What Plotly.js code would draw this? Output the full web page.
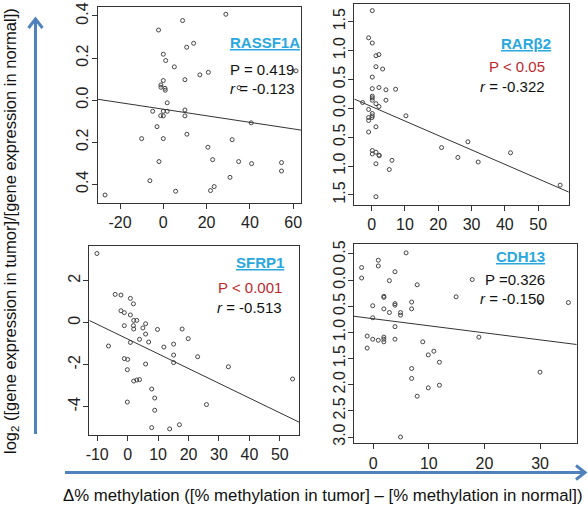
<!DOCTYPE html>
<html>
<head>
<meta charset="utf-8">
<script src="https://cdn.plot.ly/plotly-3.0.1.min.js"></script>
<style>html,body{margin:0;padding:0;background:#fff;}#chart{width:588px;height:507px;}</style>
</head>
<body>
<div id="chart"></div>
<script>
// ---------- data ----------
const rassf1aX = [28.9, 8.9, -2.2, 14, 10.8, 0, 1.1, 5.1, 20.8, 16.9, 10, 0, -1.1, -1.1, 0.8, 0.9, 1.8, -4.9, 0, 1.8, 10, -1.2, 0, 10, -2.9, 40.6, -10, 0, 10.9, 31.8, 20.6, -2, 22.8, 34.8, 40.8, 54.6, 54.6, 30.8, -6.2, 23.5, 21.8, 5.7, -26.9, 61.3, 35];
const rassf1aY = [0.408, 0.378, 0.333, 0.270, 0.251, 0.218, 0.188, 0.158, 0.132, 0.120, 0.097, 0.093, 0.072, 0.061, 0.056, 0.047, -0.013, -0.053, -0.053, -0.053, -0.047, -0.074, -0.075, -0.075, -0.126, -0.108, -0.183, -0.183, -0.162, -0.188, -0.224, -0.292, -0.283, -0.292, -0.302, -0.297, -0.337, -0.367, -0.383, -0.411, -0.430, -0.433, -0.451, 0.139, 0.059];

const rarb2X = [0.2, -0.9, 0.2, 1.3, 2.2, 1.3, 3.3, 0.2, 0.2, 2.2, 4.3, 7.2, 0.2, 0.2, 0.2, 4.3, -2.7, 1.3, 2.2, -0.9, 0.2, 0.2, -0.9, 0.1, -0.9, 10.3, 1.3, -0.9, 0.2, 0.2, 1.3, 2.2, 2.3, 21, 28.9, 41.7, 25.9, 32, 6.1, 1.3, 5.3, 1.3, 56.6];
const rarb2Y = [1.69, 1.22, 1.13, 0.91, 0.93, 0.72, 0.68, 0.54, 0.34, 0.36, 0.32, 0.33, 0.21, 0.18, 0.14, 0.14, 0.10, 0.08, 0.03, -0.02, -0.09, -0.13, -0.16, -0.16, -0.21, -0.13, -0.32, -0.41, -0.73, -0.79, -0.76, -0.81, -0.82, -0.68, -0.58, -0.77, -0.85, -0.93, -0.90, -0.96, -1.06, -1.53, -1.33];

const sfrp1X = [-10.1, -4.1, -2.2, 0.9, 1.9, -2.2, -1.1, 0.9, 2.0, 3.0, 5.9, -1.1, 1.9, 2.0, 5.0, 9.8, 17.9, 5.9, 19.9, 3.9, 6.9, 0.9, -6.3, 11.9, 15.1, 23.0, 15.1, -1.1, 0, 15.1, 5.9, 33.1, -0.1, 3.9, 3.0, 2.0, 54.2, 7.9, 8.9, 25.9, -0.1, 8.9, 17.0, 7.9, 13.8];
const sfrp1Y = [3.30, 1.35, 1.32, 1.16, 0.90, 0.57, 0.48, 0.37, 0.11, 0.11, -0.05, -0.14, -0.14, -0.30, -0.25, -0.32, -0.30, -0.54, -0.76, -0.79, -0.92, -0.94, -1.11, -1.16, -1.02, -1.62, -1.54, -1.71, -1.75, -1.90, -1.97, -2.10, -2.24, -2.71, -2.73, -2.78, -2.68, -3.16, -3.59, -3.90, -3.78, -4.17, -4.86, -5.00, -5.06];

const cdh13X = [5.9, 0.9, -2.1, 0.9, 3.9, -2.1, 2.9, 17.8, 7.9, 1.9, 1.9, 14.9, 6.9, 30, 35.1, 3.9, 3.9, -0.1, 1.9, 6.9, 2.9, 4.9, 4.9, -0.1, 3.9, -1.1, -0.1, 0.9, 1.9, 1.9, 1.9, 3.9, 19, 8.9, -1.1, 10.9, 9.9, 11.9, 6.9, 30, 6.9, 11.9, 9.9, 7.9, 4.9];
const cdh13Y = [0.52, 0.38, 0.24, 0.27, 0.16, 0.04, -0.01, 0.01, -0.09, -0.31, -0.33, -0.32, -0.42, -0.43, -0.43, -0.45, -0.48, -0.49, -0.55, -0.55, -0.62, -0.62, -0.67, -0.72, -0.89, -1.07, -1.13, -1.15, -1.09, -1.13, -1.18, -1.13, -1.09, -1.18, -1.30, -1.36, -1.43, -1.57, -1.69, -1.76, -1.88, -2.01, -2.06, -2.22, -3.00];

// fitted lines: [intercept, slope]
const rassf1aFit = [-0.0433, -0.00156];
const rarb2Fit = [0.03, -0.025];
const sfrp1Fit = [-0.777, -0.0703];
const cdh13Fit = [-0.7385, -0.01347];

// gene names and statistics
const genes = ['RASSF1A', 'RAR\u03B22', 'SFRP1', 'CDH13'];
const pTexts = ['P = 0.419', 'P < 0.05', 'P < 0.001', 'P =0.326'];
const rTexts = ['-0.123', '-0.322', '-0.513', '-0.150'];

// tick labels (minus signs clipped on rotated labels, as in the reference)
const x1Ticks = [-20, 0, 20, 40, 60];
const x2Ticks = [0, 10, 20, 30, 40, 50];
const x3Ticks = [-10, 0, 10, 20, 30, 40, 50];
const x4Ticks = [0, 10, 20, 30];
const y1Ticks = [-0.4, -0.2, 0, 0.2, 0.4];
const y1Text = ['0.4', '0.2', '0.0', '0.2', '0.4'];
const y2Ticks = [-1.5, -1, -0.5, 0, 0.5, 1, 1.5];
const y2Text = ['1.5', '1.0', '0.5', '0.0', '0.5', '1.0', '1.5'];
const y3Ticks = [-4, -2, 0, 2];
const y3Text = ['-4', '-2', '0', '2'];
const y4Ticks = [-3, -2.5, -2, -1.5, -1, -0.5, 0, 0.5];
const y4Text = ['3.0', '2.5', '2.0', '1.5', '1.0', '0.5', '0.0', '0.5'];

const xLabel = '\u0394% methylation ([% methylation in tumor] \u2013 [% methylation in normal])';
const yLabel = 'log<sub>2</sub> ([gene expression in tumor]/[gene expression in normal])';

// ---------- layout helpers ----------
const W = 588, H = 507;
const px = v => v / W;
const py = v => 1 - v / H;
const FONT = 'Liberation Sans, Arial, sans-serif';
const INK = '#333333';
const BLUE = '#29A8E0';
const RED = '#C1272D';
const ARROW = '#4F81BD';

const panels = [
  {x: rassf1aX, y: rassf1aY, fit: rassf1aFit, xr: [-30.3, 63.6], yr: [-0.489, 0.441], xt: x1Ticks, yt: y1Ticks, ytt: y1Text,
   dom: [[97.7, 301], [7.3, 203]]},
  {x: rarb2X, y: rarb2Y, fit: rarb2Fit, xr: [-5.2, 59.2], yr: [-1.665, 1.805], xt: x2Ticks, yt: y2Ticks, ytt: y2Text,
   dom: [[354.3, 568.8], [4, 204.5]]},
  {x: sfrp1X, y: sfrp1Y, fit: sfrp1Fit, xr: [-12.6, 56.4], yr: [-5.35, 3.67], xt: x3Ticks, yt: y3Ticks, ytt: y3Text,
   dom: [[89.3, 299.3], [245.7, 435]]},
  {x: cdh13X, y: cdh13Y, fit: cdh13Fit, xr: [-3.47, 36.6], yr: [-3.12, 0.69], xt: x4Ticks, yt: y4Ticks, ytt: y4Text,
   dom: [[354, 576.7], [244, 443.3]]}
];

const traces = [];
const layout = {
  width: W, height: H,
  margin: {l: 0, r: 0, t: 0, b: 0},
  paper_bgcolor: '#fff', plot_bgcolor: '#fff',
  showlegend: false,
  font: {family: FONT, size: 15, color: '#222'},
  annotations: [], shapes: []
};

panels.forEach((p, i) => {
  const n = i + 1;
  const xa = n === 1 ? 'x' : 'x' + n;
  const ya = n === 1 ? 'y' : 'y' + n;
  traces.push({
    type: 'scatter', mode: 'markers', x: p.x, y: p.y, xaxis: xa, yaxis: ya,
    marker: {symbol: 'circle-open', size: 4, color: '#444', line: {width: 1, color: '#444'}},
    cliponaxis: false, hoverinfo: 'skip'
  });
  const lx = [p.xr[0], p.xr[1]];
  traces.push({
    type: 'scatter', mode: 'lines', x: lx, y: lx.map(v => p.fit[0] + p.fit[1] * v),
    xaxis: xa, yaxis: ya, line: {color: INK, width: 1}, hoverinfo: 'skip'
  });
  const common = {
    showline: true, mirror: true, linecolor: INK, linewidth: 1,
    ticks: 'outside', ticklen: 5, tickcolor: INK, tickwidth: 1,
    showgrid: false, zeroline: false, fixedrange: true,
    tickfont: {family: FONT, size: 16, color: '#222'}
  };
  layout['xaxis' + (n === 1 ? '' : n)] = Object.assign({}, common, {
    domain: [px(p.dom[0][0]), px(p.dom[0][1])], range: p.xr, anchor: ya,
    tickmode: 'array', tickvals: p.xt, ticktext: p.xt.map(String), tickangle: 0
  });
  layout['yaxis' + (n === 1 ? '' : n)] = Object.assign({}, common, {
    domain: [py(p.dom[1][1]), py(p.dom[1][0])], range: p.yr, anchor: xa,
    tickmode: 'array', tickvals: p.yt, ticktext: p.ytt, tickangle: -90,
    ticklabelstandoff: -3
  });
});

// panel texts: [gene x, gene y, anchor, stat x, P y, r y]
const txtPos = [
  [227.7, 43, 'left', 227.7, 69.5, 88],
  [553.3, 43.5, 'right', 547.3, 66.5, 86.5],
  [286, 262.5, 'right', 283.5, 287.5, 307.5],
  [547.3, 256, 'right', 547.3, 279.5, 298]
];
txtPos.forEach((t, i) => {
  const base = {xref: 'paper', yref: 'paper', showarrow: false, xanchor: t[2], yanchor: 'middle'};
  layout.annotations.push(Object.assign({}, base, {
    x: px(t[0]), y: py(t[1]), text: '<u><b>' + genes[i] + '</b></u>',
    font: {family: FONT, size: 15, color: BLUE}
  }));
  layout.annotations.push(Object.assign({}, base, {
    x: px(t[3]), y: py(t[4]), text: pTexts[i],
    font: {family: FONT, size: 15, color: (i === 1 || i === 2) ? RED : '#111'}
  }));
  layout.annotations.push(Object.assign({}, base, {
    x: px(t[3]), y: py(t[5]), text: '<i>r</i> = ' + rTexts[i],
    font: {family: FONT, size: 15, color: '#111'}
  }));
});

// axis titles
layout.annotations.push({xref: 'paper', yref: 'paper', showarrow: false, x: px(323), y: py(495),
  xanchor: 'center', yanchor: 'middle', text: xLabel, font: {family: FONT, size: 16.8, color: '#111'}});
layout.annotations.push({xref: 'paper', yref: 'paper', showarrow: false, x: px(11), y: py(231),
  xanchor: 'center', yanchor: 'middle', textangle: -90, text: yLabel, font: {family: FONT, size: 16.5, color: '#111'}});

// blue arrows
const P = (x, y) => px(x) + ',' + py(y);
layout.shapes.push({type: 'line', xref: 'paper', yref: 'paper', x0: px(35.5), x1: px(35.5), y0: py(434), y1: py(20),
  line: {color: ARROW, width: 3}});
layout.shapes.push({type: 'path', xref: 'paper', yref: 'paper', path: 'M' + P(28.5, 28) + ' L' + P(35.5, 19) + ' L' + P(42.5, 28),
  line: {color: ARROW, width: 3}});
layout.shapes.push({type: 'line', xref: 'paper', yref: 'paper', x0: px(65), x1: px(584), y0: py(472.5), y1: py(472.5),
  line: {color: ARROW, width: 3}});
layout.shapes.push({type: 'path', xref: 'paper', yref: 'paper', path: 'M' + P(576, 465.5) + ' L' + P(585, 472.5) + ' L' + P(576, 479.5),
  line: {color: ARROW, width: 3}});

Plotly.newPlot('chart', traces, layout, {staticPlot: true, displayModeBar: false});
</script>
</body>
</html>
